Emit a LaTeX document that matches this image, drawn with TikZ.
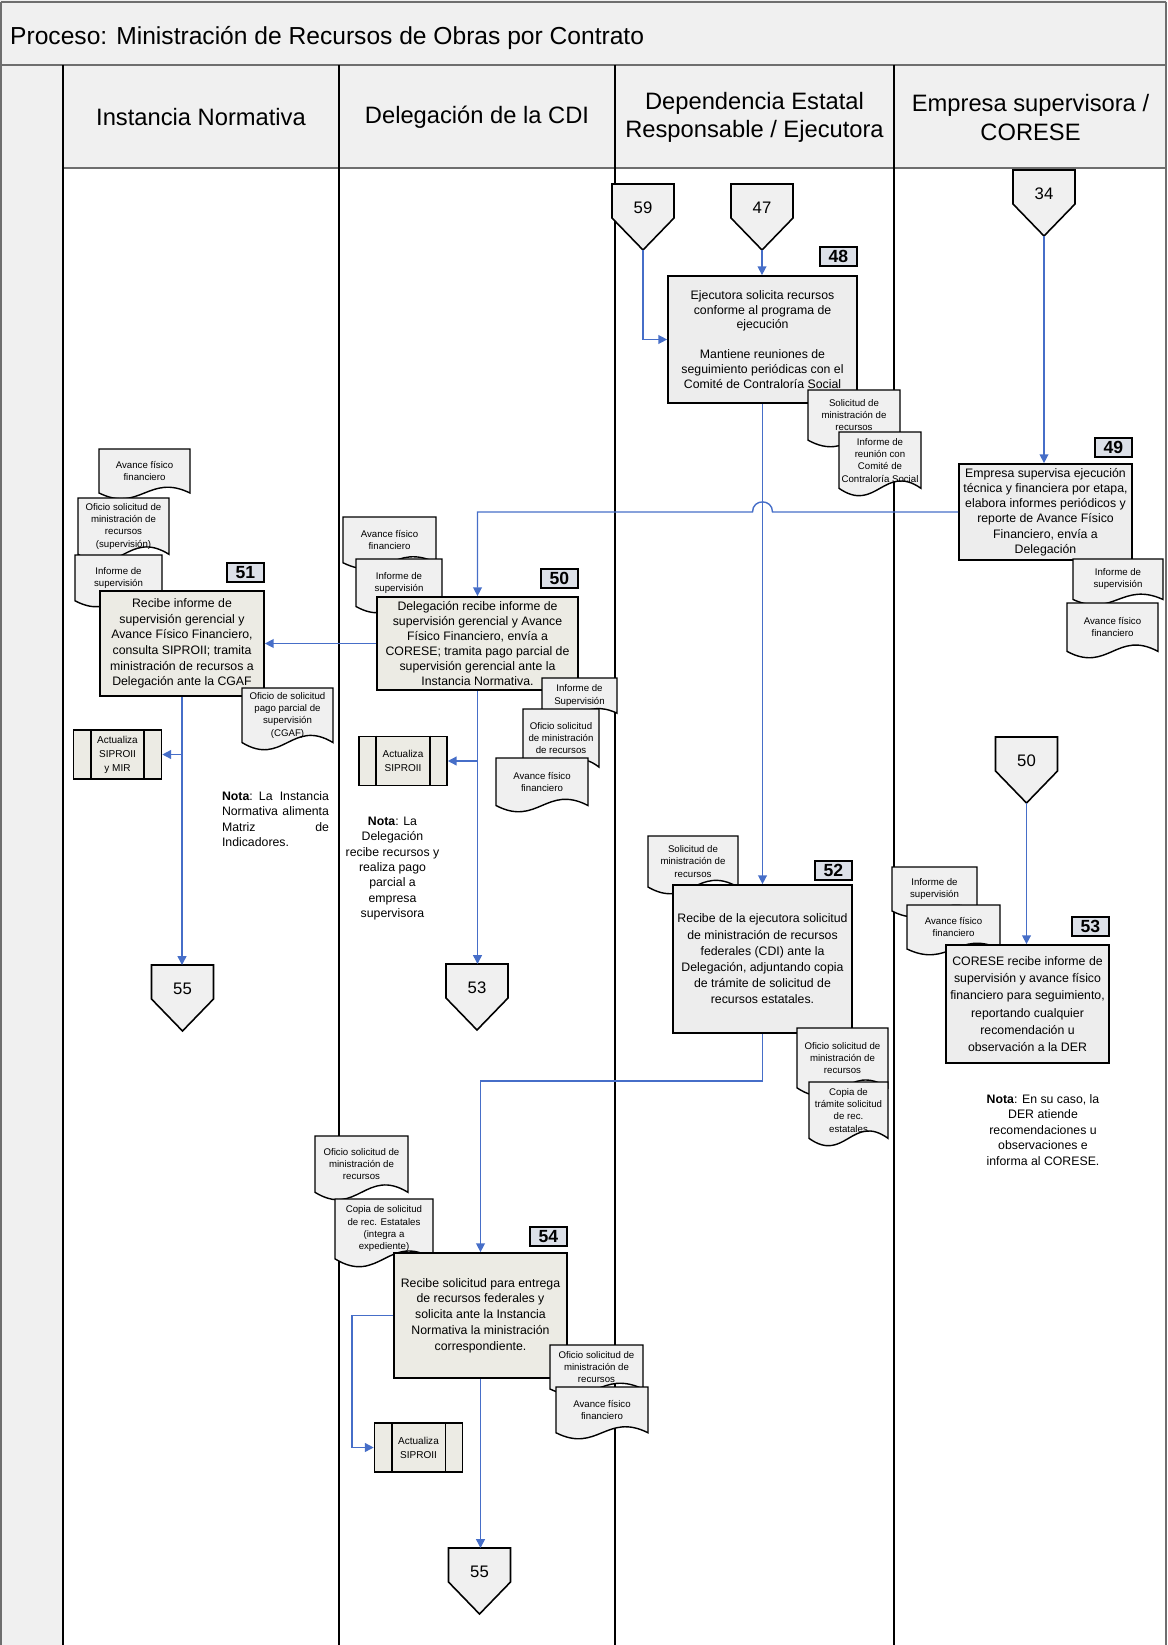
\documentclass[tikz,border=0pt]{standalone}
\usepackage{fontspec}
\setmainfont{Liberation Sans}
\usetikzlibrary{positioning,arrows.meta}

\definecolor{flujo}{RGB}{70,110,200}
\definecolor{cajagris}{RGB}{237,237,237}
\definecolor{cajacrema}{RGB}{236,235,228}
\definecolor{etiq}{RGB}{220,224,232}
\definecolor{banda}{RGB}{240,240,240}
\definecolor{marcogris}{RGB}{110,110,110}

\tikzset{
  proc/.style={draw, line width=1pt, fill=cajagris, align=center, inner sep=1pt, font=\fontsize{7}{8.8}\selectfont},
  tag/.style={draw, line width=1.1pt, fill=etiq, minimum width=0.74cm, minimum height=0.38cm, inner sep=0pt, font=\fontsize{10}{10}\bfseries\selectfont},
  subproc/.style={draw, line width=0.9pt, fill=cajacrema, minimum width=1.76cm, minimum height=0.98cm, align=center, inner sep=0pt, font=\fontsize{5.7}{8}\selectfont,
    append after command={([xshift=0.36cm]\tikzlastnode.north west) edge[line width=0.9pt] ([xshift=0.36cm]\tikzlastnode.south west)
      ([xshift=-0.36cm]\tikzlastnode.north east) edge[line width=0.9pt] ([xshift=-0.36cm]\tikzlastnode.south east)}},
  docline/.style={draw, line width=0.8pt, fill=banda},
  doctxt/.style={align=center, inner sep=0pt, font=\fontsize{5.5}{7}\selectfont},
  conline/.style={draw, line width=0.9pt, fill=banda},
  flow/.style={draw=flujo, line width=0.8pt, -{Triangle[length=5pt,width=5pt]}},
  nota/.style={align=center, font=\fontsize{7}{8.8}\selectfont},
  carril/.style={align=center, font=\fontsize{13.5}{16}\selectfont},
  marco/.style={draw=marcogris, line width=1.6pt},
  carrilline/.style={draw=black, line width=1pt}
}

% conector fuera de pagina: nombre, x centro, y arriba, numero
\newcommand{\conector}[4]{%
  \path[conline] (#2-31,#3) -- (#2+31,#3) -- (#2+31,#3+34) -- (#2,#3+66) -- (#2-31,#3+34) -- cycle;
  \node[font=\fontsize{9.5}{10}\selectfont] (#1) at (#2,#3+24) {#4};
  \coordinate (#1top) at (#2,#3);
  \coordinate (#1tip) at (#2,#3+66);
}

% documento: nombre, x, y (arriba izq.), ancho, alto, texto
\newcommand{\docu}[6]{%
  \path[docline] (#2,#3) -- (#2+#4,#3) -- (#2+#4,#3+0.88*#5)
    .. controls (#2+0.55*#4,#3+0.48*#5) and (#2+0.45*#4,#3+1.28*#5) .. (#2,#3+0.88*#5) -- cycle;
  \node[doctxt] (#1) at (#2+0.5*#4,#3+0.44*#5) {#6};
}

\begin{document}
\begin{tikzpicture}[x=0.02cm, y=-0.02cm]
        \useasboundingbox (0,0) rectangle (1167,1645);

        % Marco y carriles
        \fill[banda] (0,0) rectangle (1167,168);
        \fill[banda] (0,168) rectangle (63,1645);
        \draw[marco] (1,2) -- (1166,2);
        \draw[marco] (1,2) -- (1,1645);
        \draw[marco] (1166,2) -- (1166,1645);
        \draw[marco] (1,65) -- (1166,65);
        \draw[marco] (63,168) -- (1166,168);
        \foreach \x in {63,339,615,894}
            \draw[carrilline] (\x,65) -- (\x,1645);

        \node[anchor=west, font=\fontsize{14}{16}\selectfont] (titulo) at (4,38) {Proceso: Ministración de Recursos de Obras por Contrato};
        \node[carril] (h1) at (201,117.5) {Instancia Normativa};
        \node[carril] (h2) at (477,117.5) {Delegación de la CDI};
        \node[carril] (h3) at (754.5,117.5) {Dependencia Estatal\\Responsable / Ejecutora};
        \node[carril] (h4) at (1030.5,117.5) {Empresa supervisora /\\CORESE};

        % Conectores de entrada y salida
        \conector{c59}{643}{184}{59}
        \conector{c47}{762}{184}{47}
        \conector{c34}{1044}{170}{34}
        \conector{c50}{1026.5}{737}{50}
        \conector{c55a}{182.5}{965}{55}
        \conector{c53}{477}{964}{53}
        \conector{c55b}{479.5}{1548}{55}

        % Instancia Normativa
        \docu{d51a}{99}{449}{91}{50}{Avance físico\\financiero}
        \docu{d51b}{78}{498}{91}{64}{Oficio solicitud de\\ministración de\\recursos\\(supervisión)}
        \docu{d51c}{75}{555}{87}{52}{Informe de\\supervisión}
        \node[proc, fill=cajacrema, font=\fontsize{7}{8.9}\selectfont, minimum width=3.28cm, minimum height=2.10cm] (p51) at (182,643.5) {Recibe informe de\\supervisión gerencial y\\Avance Físico Financiero,\\consulta SIPROII; tramita\\ministración de recursos a\\Delegación ante la CGAF};
        \node[tag, above=0.14cm of p51.north east, anchor=south east] (n51) {51};
        \docu{d51d}{242}{688}{91}{62}{Oficio de solicitud\\pago parcial de\\supervisión\\(CGAF)}
        \node[subproc] (a51) at (117.5,754.5) {Actualiza\\SIPROII\\y MIR};
        \node[nota, text width=2.14cm, align=left] (nota51) at (275.5,819) {\textbf{Nota}: La\hfill Instancia\\Normativa\hfill alimenta\\Matriz\hfill de\\Indicadores.};

        % Delegacion de la CDI
        \docu{d50a}{343}{517}{93}{52}{Avance físico\\financiero}
        \docu{d50b}{356}{559}{86}{54}{Informe de\\supervisión}
        \node[proc, fill=cajacrema, font=\fontsize{7}{8.5}\selectfont, minimum width=4.02cm, minimum height=1.86cm] (p50) at (477.5,643.5) {Delegación recibe informe de\\supervisión gerencial y Avance\\Físico Financiero,  envía a\\CORESE; tramita pago parcial de\\supervisión gerencial ante la\\Instancia Normativa.};
        \node[tag, above=0.14cm of p50.north east, anchor=south east] (n50) {50};
        \docu{d50c}{542}{678}{75}{40}{Informe de\\Supervisión}
        \docu{d50d}{523}{709}{76}{66}{Oficio solicitud\\de ministración\\de recursos}
        \docu{d50e}{496}{758}{92}{54}{Avance físico\\financiero}
        \node[subproc] (a50) at (403,761) {Actualiza\\SIPROII};
        \node[nota] (nota50) at (392.5,868.5) {\textbf{Nota}: La\\Delegación\\recibe recursos y\\realiza pago\\parcial a\\empresa\\supervisora};

        \docu{d54a}{315}{1136}{93}{64}{Oficio solicitud de\\ministración de\\recursos}
        \docu{d54b}{335}{1199}{98}{68}{Copia de solicitud\\de rec. Estatales\\(integra a\\expediente)}
        \node[proc, fill=cajacrema, font=\fontsize{7}{9}\selectfont, minimum width=3.46cm, minimum height=2.50cm] (p54) at (480.5,1315.5) {Recibe solicitud para entrega\\de recursos federales y\\solicita ante la Instancia\\Normativa la ministración\\correspondiente.};
        \node[tag, above=0.1cm of p54.north east, anchor=south east] (n54) {54};
        \docu{d54c}{550}{1345}{93}{50}{Oficio solicitud de\\ministración de\\recursos}
        \docu{d54d}{556}{1387}{92}{52}{Avance físico\\financiero}
        \node[subproc] (a54) at (418.5,1447.5) {Actualiza\\SIPROII};

        % Dependencia Estatal Responsable / Ejecutora
        \node[proc, font=\fontsize{7}{8.5}\selectfont, minimum width=3.78cm, minimum height=2.54cm] (p48) at (762.5,339.5) {Ejecutora solicita recursos\\conforme al programa de\\ejecución\\[8.5pt]Mantiene reuniones de\\seguimiento periódicas con el\\Comité de Contraloría Social};
        \node[tag, above=0.16cm of p48.north east, anchor=south east] (n48) {48};
        \docu{d48a}{808}{390}{92}{57}{Solicitud de\\ministración de\\recursos}
        \docu{d48b}{839}{432}{82}{64}{Informe de\\reunión con\\Comité de\\Contraloría Social}

        \docu{d52a}{648}{836}{90}{58}{Solicitud de\\ministración de\\recursos}
        \node[proc, font=\fontsize{7}{9.2}\selectfont, minimum width=3.58cm, minimum height=2.96cm] (p52) at (762.5,959) {Recibe de la ejecutora solicitud\\de ministración de recursos\\federales (CDI) ante la\\Delegación, adjuntando copia\\de trámite de solicitud de\\recursos estatales.};
        \node[tag, above=0.06cm of p52.north east, anchor=south east] (n52) {52};
        \docu{d52b}{797}{1028}{91}{68}{Oficio solicitud de\\ministración de\\recursos}
        \docu{d52c}{809}{1082}{79}{64}{Copia de\\trámite solicitud\\de rec.\\estatales}

        % Empresa supervisora / CORESE
        \node[proc, font=\fontsize{7}{8.7}\selectfont, minimum width=3.46cm, minimum height=1.92cm] (p49) at (1045.5,512) {Empresa supervisa ejecución\\técnica y financiera por etapa,\\elabora informes periódicos y\\reporte de Avance Físico\\Financiero, envía a\\Delegación};
        \node[tag, above=0.1cm of p49.north east, anchor=south east] (n49) {49};
        \docu{d49a}{1073}{559}{90}{46}{Informe de\\supervisión}
        \docu{d49b}{1067}{603}{91}{55}{Avance físico\\financiero}

        \docu{d53a}{892}{867}{85}{50}{Informe de\\supervisión}
        \docu{d53b}{907}{905}{93}{50}{Avance físico\\financiero}
        \node[proc, font=\fontsize{7}{9.8}\selectfont, minimum width=3.26cm, minimum height=2.36cm] (p53) at (1027.5,1004) {CORESE recibe informe de\\supervisión y avance físico\\financiero para seguimiento,\\reportando cualquier\\recomendación u\\observación a la DER};
        \node[tag, above=0.14cm of p53.north east, anchor=south east] (n53) {53};
        \node[nota] (nota53) at (1043,1130) {\textbf{Nota}: En su caso, la\\DER atiende\\recomendaciones u\\observaciones e\\informa al CORESE.};

        % Flujo
        \draw[flow] (c59tip) |- (p48.west);
        \draw[flow] (c47tip) -- (c47tip |- p48.north);
        \draw[flow] (p48.south) -- (p52.north);
        \draw[flow] (c34tip) -- (c34tip |- p49.north);
        \draw[flow] (p49.west) -- ([xshift=0.2cm]p48.south |- p49.west) .. controls +(0,0.27cm) and +(0,0.27cm) .. ([xshift=-0.2cm]p48.south |- p49.west) -- (p50.north |- p49.west) -- (p50.north);
        \draw[flow] (p50.west) -- (p51.east);
        \draw[flow] (p51.south) -- (p51.south |- c55atop);
        \draw[flow] (p51.south |- a51.east) -- (a51.east);
        \draw[flow] (p50.south) -- (p50.south |- c53top);
        \draw[flow] (p50.south |- a50.east) -- (a50.east);
        \draw[flow] (p52.south) -- ++(0,-0.94cm) -| (p54.north);
        \draw[flow] (p54.south) -- (p54.south |- c55btop);
        \draw[flow] (p54.west) -- ++(-0.82cm,0) |- (a54.west);
        \draw[flow] (c50tip) -- (c50tip |- p53.north);

    \end{tikzpicture}
\end{document}
